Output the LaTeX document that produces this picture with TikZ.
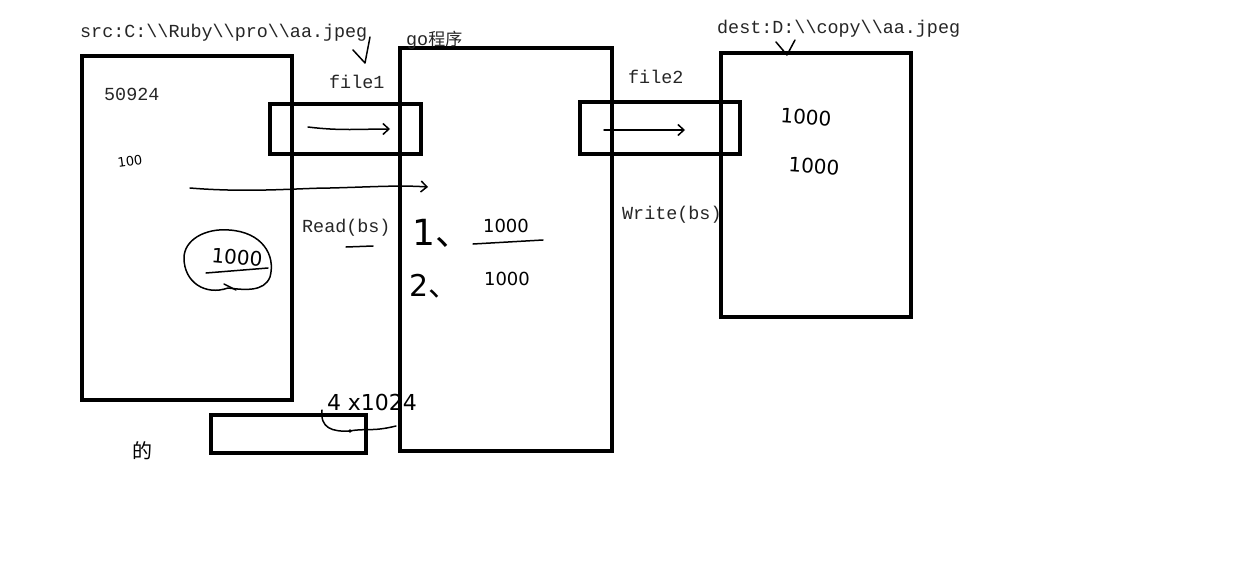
\documentclass[tikz,border=0pt]{standalone}
\usepackage{fontspec}
\setmainfont{Liberation Serif}
\newfontfamily\lblfont{Liberation Mono}
\newfontfamily\handfont{DejaVu Sans}
\newfontfamily\cjkfont{Noto Sans CJK SC}
\usetikzlibrary{arrows.meta}
\begin{document}
\begin{tikzpicture}[x=1pt,y=-1pt,
  box/.style={draw=black,line width=4pt,fill=none,inner sep=0pt},
  lbl/.style={font=\lblfont\fontsize{18.4}{20}\selectfont,anchor=base west,inner sep=0pt,text=black!85},
  hand/.style={font=\handfont\fontsize{20}{22}\selectfont,inner sep=0pt},
  pen/.style={line width=1.5pt,line cap=round,line join=round},
  arr/.style={pen,-{Straight Barb[length=6pt,width=11pt,line width=1.5pt]}}]
\useasboundingbox (0,0) rectangle (1250,568);
\fill[white] (0,0) rectangle (1250,568);
% main boxes
\node[box,minimum width=210pt,minimum height=344pt] (src) at (187,228) {};
\node[box,minimum width=212pt,minimum height=403pt] (prog) at (506,249.5) {};
\node[box,minimum width=190pt,minimum height=264pt] (dest) at (816,185) {};
\node[box,minimum width=151pt,minimum height=50pt] (file1box) at (345.5,129) {};
\node[box,minimum width=160pt,minimum height=52pt] (file2box) at (660,128) {};
\node[box,minimum width=155pt,minimum height=38pt] (buf) at (288.5,434) {};
% printed labels
\node[lbl] (srclbl) at (80,37) {src:C:\textbackslash\textbackslash Ruby\textbackslash\textbackslash pro\textbackslash\textbackslash aa.jpeg};
\node[lbl] (goprog) at (406,45) {go{\cjkfont\fontsize{17}{19}\selectfont 程序}};
\node[lbl] (file1) at (329,88) {file1};
\node[lbl] (num) at (104,100) {50924};
\node[lbl] (file2) at (628,83) {file2};
\node[lbl] (destlbl) at (717,33) {dest:D:\textbackslash\textbackslash copy\textbackslash\textbackslash aa.jpeg};
\node[lbl] (read) at (302,232) {Read(bs)};
\node[lbl] (write) at (622,219) {Write(bs)};
% handwritten notes
\node[hand,font=\handfont\fontsize{13}{14}\selectfont,rotate=8] (h100) at (130,161) {100};
\node[hand,rotate=-5] (hcirc) at (237,257) {1000};
\node[hand,font=\handfont\fontsize{36}{38}\selectfont] (one) at (442,233) {1{\cjkfont 、}};
\node[hand,font=\handfont\fontsize{18}{20}\selectfont] (r1) at (506,226) {1000};
\node[hand,font=\handfont\fontsize{30}{32}\selectfont] (two) at (434,286) {2{\cjkfont 、}};
\node[hand,font=\handfont\fontsize{18}{20}\selectfont] (r2) at (507,279) {1000};
\node[hand,font=\handfont\fontsize{22}{24}\selectfont] (mul) at (372,402) {4 x1024};
\node[hand,font=\cjkfont\fontsize{20}{22}\selectfont] (de) at (142,451) {的};
\node[hand,font=\handfont\fontsize{20}{22}\selectfont,rotate=-4] (d1) at (806,117) {1000};
\node[hand,font=\handfont\fontsize{20}{22}\selectfont,rotate=-4] (d2) at (814,166) {1000};
% circle around 1000 and its marks
\draw[pen] (229,230) .. controls (262,232) and (276,255) .. (270,277)
  .. controls (264,292) and (245,290) .. (228,288)
  .. controls (205,296) and (184,282) .. (184,258)
  .. controls (184,240) and (205,228) .. (229,230);
\draw[pen] (206,273) -- (268,268);
\draw[pen] (224,284) -- (236,290);
% underlines and ticks
\draw[pen] (346,247) -- (373,246);
\draw[pen] (473,244) -- (543,240);
\coordinate (tk1a) at (353,50); \coordinate (tk1b) at (365,63); \coordinate (tk1c) at (370,37);
\draw[pen] (tk1a) -- (tk1b) -- (tk1c);
\coordinate (tk2a) at (776,42); \coordinate (tk2b) at (787,55); \coordinate (tk2c) at (795,40);
\draw[pen] (tk2a) -- (tk2b) -- (tk2c);
% arrows
\coordinate (a1s) at (308,127); \coordinate (a1e) at (390,129);
\draw[arr] (a1s) .. controls (340,131) and (360,129) .. (a1e);
\coordinate (a2s) at (604,130); \coordinate (a2e) at (685,130);
\draw[arr] (a2s) -- (a2e);
\coordinate (a3s) at (190,188); \coordinate (a3e) at (428,187);
\draw[arr] (a3s) .. controls (250,193) and (300,188) .. (330,188)
  .. controls (370,187) and (400,185) .. (a3e);
% brace under 4x1024
\coordinate (b1) at (322,410); \coordinate (b2) at (350,431); \coordinate (b3) at (396,426);
\draw[pen] (b1) .. controls (320,428) and (332,432) .. (b2)
  .. controls (365,428) and (372,432) .. (b3);
\fill (b2) circle (1.8pt);
\end{tikzpicture}
\end{document}
